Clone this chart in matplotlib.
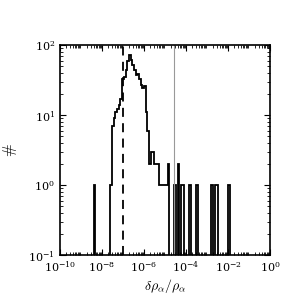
import numpy as np
import matplotlib
matplotlib.use('Agg')
import matplotlib.pyplot as plt
from matplotlib.ticker import LogLocator, NullFormatter

plt.rcParams['mathtext.fontset'] = 'cm'
plt.rcParams['font.family'] = 'serif'
plt.rcParams['font.serif'] = ['DejaVu Serif']

# log-spaced bins, 125 bins over 10 decades
n_bins = 125
log_lo, log_hi = -10, 0

# non-empty bins (index into bin list) and their counts
bin_idx = [20, 30, 31, 32, 33, 34, 35, 36, 37, 38, 39, 40, 41, 42, 43, 44,
           45, 46, 47, 48, 49, 50, 51, 52, 53, 54, 55, 56, 57, 58, 59, 60,
           61, 62, 63, 64, 68, 70, 72, 73, 77, 81, 90, 92, 93, 100]
counts = [1, 1, 7, 9, 11, 12, 14, 17, 33, 35, 44, 59, 72, 61, 52, 44,
          37, 38, 33, 27, 24, 26, 11, 6, 2, 3, 3, 2, 2, 2, 1, 1,
          1, 1, 1, 2, 1, 2, 1, 1, 1, 1, 1, 1, 1, 1]

dashed_x = 1e-7
gray_x = 2.7e-5

edges = 10 ** np.linspace(log_lo, log_hi, n_bins + 1)
centers = np.sqrt(edges[:-1] * edges[1:])
w = np.zeros(n_bins)
w[bin_idx] = counts

fig = plt.figure(figsize=(3, 3), dpi=100)
ax = fig.add_axes([0.2, 0.15, 0.7, 0.7])
ax.hist(centers, bins=edges, weights=w, histtype='step', color='k', lw=1.3)
ax.axvline(dashed_x, color='k', ls=(0, (5, 3.5)), lw=1.3)
ax.axvline(gray_x, color='0.6', lw=0.8)

ax.set_xscale('log')
ax.set_yscale('log')
ax.set_xlim(1e-10, 1e0)
ax.set_ylim(1e-1, 1e2)
ax.xaxis.set_minor_locator(LogLocator(base=10, subs=np.arange(2, 10), numticks=100))
ax.xaxis.set_minor_formatter(NullFormatter())
ax.set_xticks([1e-10, 1e-8, 1e-6, 1e-4, 1e-2, 1e0])
ax.tick_params(which='both', direction='in', top=True, right=True, labelsize=8)
ax.tick_params(which='major', length=4, width=0.8)
ax.tick_params(which='minor', length=2, width=0.6)
for s in ax.spines.values():
    s.set_linewidth(1.2)

ax.set_xlabel(r'$\delta\rho_\alpha/\rho_\alpha$', fontsize=10, labelpad=2)
ax.set_ylabel(r'$\#$', fontsize=11, labelpad=7)

plt.savefig('out.png', dpi=100)
